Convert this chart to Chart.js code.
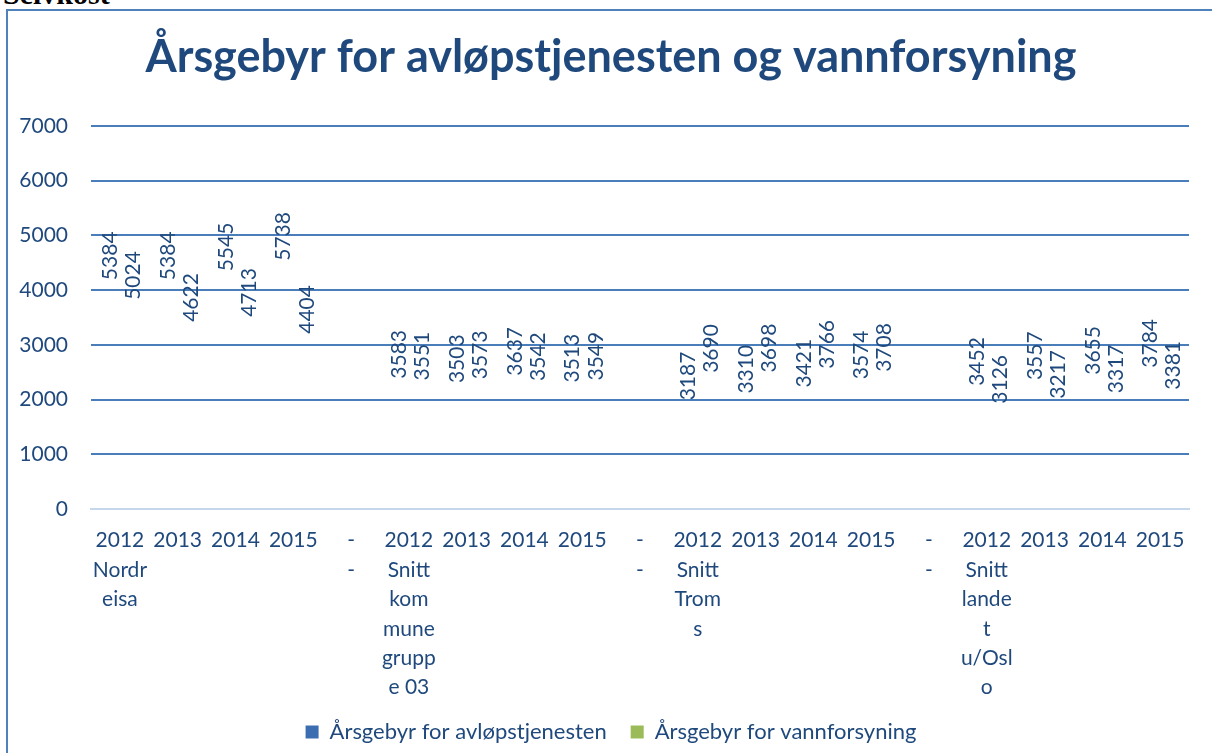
<!DOCTYPE html>
<html lang="no">
<head>
<meta charset="utf-8">
<title>Årsgebyr for avløpstjenesten og vannforsyning</title>
<script src="https://cdn.jsdelivr.net/npm/chart.js@4/dist/chart.umd.min.js"></script>
<style>
    html, body { margin: 0; padding: 0; background: #fff; overflow: hidden; }
    #heading {
        position: absolute; left: 3px; top: -21px;
        font: bold 30px "Liberation Serif", serif; line-height: 30px; color: #000;
    }
    #frame {
        position: absolute; left: 6px; top: 9px; width: 1230px; height: 780px;
        border: 2px solid #4F81BD; box-sizing: border-box;
    }
    #wrap { position: absolute; left: 0; top: 0; width: 1212px; height: 753px; }
</style>
</head>
<body>
<div id="heading">Selvkost</div>
<div id="frame"></div>
<div id="wrap"><canvas id="chart" width="1212" height="753"></canvas></div>
<script>
const years = ['2012', '2013', '2014', '2015'];
const groupLines = [
    ['Nordr', 'eisa'],
    ['Snitt', 'kom', 'mune', 'grupp', 'e 03'],
    ['Snitt', 'Trom', 's'],
    ['Snitt', 'lande', 't', 'u/Osl', 'o']
];
const separator = ['-', '-'];

// null marks the empty separator slot between groups
const avlop = [5384, 5384, 5545, 5738, null,
               3583, 3503, 3637, 3513, null,
               3187, 3310, 3421, 3574, null,
               3452, 3557, 3655, 3784];
const vann = [5024, 4622, 4713, 4404, null,
              3551, 3573, 3542, 3549, null,
              3690, 3698, 3766, 3708, null,
              3126, 3217, 3317, 3381];

const seriesNames = ['Årsgebyr for avløpstjenesten', 'Årsgebyr for vannforsyning'];
const legendColors = ['#3C6DB0', '#9BBB59'];

const textColor = '#1F497D';
const gridColor = '#4A7EBB';
const zeroColor = '#C6D6EC';
const fontFamily = 'Lato, "Open Sans", sans-serif';

// first year of each group carries the group name underneath
const categories = [];
groupLines.forEach((lines, g) => {
    years.forEach((y, i) => {
        categories.push(i === 0 ? [y].concat(lines) : [y]);
    });
    if (g < groupLines.length - 1) categories.push(separator);
});

// value labels written vertically just inside the top of each (hidden) bar
const barLabels = {
    id: 'barLabels',
    afterDatasetsDraw(chart) {
        const ctx = chart.ctx;
        ctx.save();
        ctx.fillStyle = textColor;
        ctx.font = '21px ' + fontFamily;
        ctx.textAlign = 'right';
        ctx.textBaseline = 'middle';
        chart.data.datasets.forEach((ds, di) => {
            chart.getDatasetMeta(di).data.forEach((bar, i) => {
                const v = ds.data[i];
                if (v === null) return;
                ctx.save();
                ctx.translate(bar.x + 2, bar.y + 17);
                ctx.rotate(-Math.PI / 2);
                ctx.fillText(String(v), 0, 0);
                ctx.restore();
            });
        });
        ctx.restore();
    }
};

const ctx = document.getElementById('chart').getContext('2d');
new Chart(ctx, {
    type: 'bar',
    data: {
        labels: categories,
        datasets: [
            { label: seriesNames[0], data: avlop, backgroundColor: 'rgba(0,0,0,0)', borderWidth: 0 },
            { label: seriesNames[1], data: vann, backgroundColor: 'rgba(0,0,0,0)', borderWidth: 0 }
        ]
    },
    options: {
        responsive: false,
        animation: false,
        layout: { padding: { left: 10, right: 0, top: 0, bottom: 0 } },
        plugins: {
            title: {
                display: true,
                text: 'Årsgebyr for avløpstjenesten og vannforsyning',
                color: textColor,
                font: { family: fontFamily, size: 45, weight: 'bold', lineHeight: 1.2 },
                padding: { top: 30, bottom: 42 }
            },
            legend: {
                position: 'bottom',
                labels: {
                    color: textColor,
                    font: { family: fontFamily, size: 22 },
                    boxWidth: 13,
                    boxHeight: 13,
                    padding: 24,
                    generateLabels(chart) {
                        const items = Chart.defaults.plugins.legend.labels.generateLabels(chart);
                        items.forEach((it, i) => {
                            it.fillStyle = legendColors[i];
                            it.strokeStyle = legendColors[i];
                            it.lineWidth = 0;
                        });
                        return items;
                    }
                }
            },
            tooltip: { enabled: false }
        },
        scales: {
            x: {
                grid: { display: false, drawTicks: false },
                border: { display: true, color: zeroColor, width: 2 },
                ticks: {
                    color: textColor,
                    font: { family: fontFamily, size: 21, lineHeight: 1.4 },
                    autoSkip: false,
                    maxRotation: 0,
                    padding: 17
                },
                afterFit(scale) { scale.height = 188; }
            },
            y: {
                min: 0,
                max: 7000,
                border: { display: false },
                grid: {
                    drawTicks: false,
                    lineWidth: 2,
                    color: (c) => (c.tick && c.tick.value === 0 ? zeroColor : gridColor)
                },
                ticks: {
                    stepSize: 1000,
                    color: textColor,
                    font: { family: fontFamily, size: 21 },
                    padding: 23,
                    callback: (v) => String(v)
                },
                afterFit(scale) { scale.width = 81; }
            },
            // empty right-hand margin axis, keeps the plot off the right edge
            yRight: {
                position: 'right',
                grid: { display: false, drawTicks: false },
                border: { display: false },
                ticks: { display: false },
                afterFit(scale) { scale.width = 23; }
            }
        }
    },
    plugins: [barLabels]
});
</script>
</body>
</html>
